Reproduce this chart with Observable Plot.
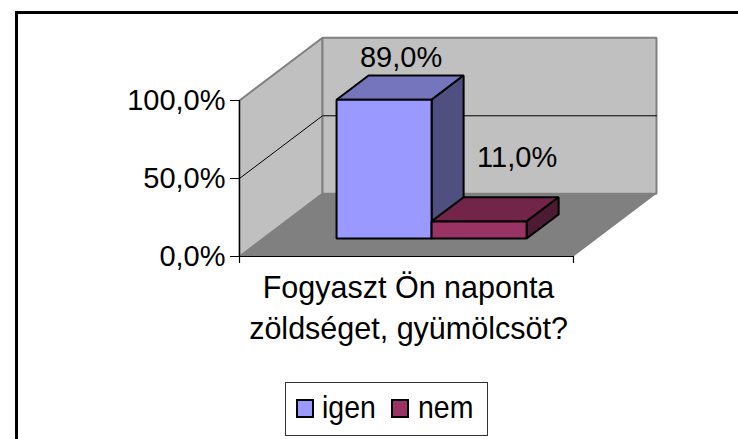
<!DOCTYPE html>
<html><head><meta charset="utf-8">
<script src="https://cdn.jsdelivr.net/npm/d3@7"></script>
<script src="https://cdn.jsdelivr.net/npm/@observablehq/plot@0.6"></script>
<style>
html,body{margin:0;padding:0;background:#fff;width:738px;height:439px;overflow:hidden}
#wrap{position:relative;width:738px;height:439px;overflow:hidden;font-family:"Liberation Sans",Arial,sans-serif;color:#000}
#frame{position:absolute;left:15px;top:11px;width:800px;height:500px;border:3px solid #000;box-sizing:border-box}
#legend{position:absolute;left:285px;top:382px;width:203px;height:54px;box-sizing:border-box;border:1px solid #333;background:#fff;font-size:28.5px;line-height:54px}
#legend i{position:absolute;top:16px;width:18px;height:19px;box-sizing:border-box;border:2.5px solid #000}
#legend span{position:absolute;top:-2px;transform:scaleY(1.1);transform-origin:50% 60%}
svg{position:absolute;left:0;top:0;background:transparent!important}
</style></head><body><div id="wrap"><div id="frame"></div><div id="chart"></div>
<div id="legend"></div></div>
<script>
const seriesNames = ["igen", "nem"];
const seriesValues = [89, 11];
const seriesColors = ["#9999FF", "#993366"];
const topColors = ["#7575BD", "#732449"];
const sideColors = ["#4F4F80", "#4D1A33"];
const yTicks = [0, 50, 100];
const categoryLines = ["Fogyaszt Ön naponta", "zöldséget, gyümölcsöt?"];

const pct = v => v.toFixed(1).replace(".", ",") + "%";
// oblique projection from (category, value, depth) to plot data space
const depthX = 0.2485, depthY = 40.2;
const P = (c, v, d) => ({x: c + d * depthX, y: v + d * depthY});
const poly = (pts, fill, stroke, strokeWidth) =>
  Plot.line(pts, {x: "x", y: "y", fill, stroke, strokeWidth, strokeLinejoin: "miter", curve: "linear-closed"});

const barStart = 0.2195, barWidth = 0.2845, d0 = 0.286, d1 = 0.672;
const fs = 29;
const marks = [
  poly([P(0,0,0),P(0,100,0),P(0,100,1),P(0,0,1)], "#C0C0C0", "#808080", 2),
  poly([P(0,0,1),P(0,100,1),P(1,100,1),P(1,0,1)], "#C0C0C0", "#808080", 2),
  poly([P(0,0,0),P(1,0,0),P(1,0,1),P(0,0,1)], "#808080", "none", 0),
  Plot.line([P(0,50,0),P(0,50,1),P(1,50,1)], {x:"x", y:"y", stroke:"#000", strokeWidth:1}),
  Plot.line([P(0,100,0),P(0,0,0),P(1,0,0)], {x:"x", y:"y", stroke:"#000", strokeWidth:1.2}),
  Plot.ruleX([0,1], {y1: 0, y2: -4.5, stroke:"#000", strokeWidth:1.2, clip:false}),
  Plot.axisY(yTicks, {anchor:"left", x:0, tickSize:9, tickPadding:5, tickFormat:pct, fontSize:fs, label:null})
];
seriesValues.forEach((v, i) => {
  const a = barStart + i * barWidth, b = a + barWidth;
  marks.push(
    poly([P(a,v,d0),P(b,v,d0),P(b,v,d1),P(a,v,d1)], topColors[i], "#000", 2),
    poly([P(b,0,d0),P(b,v,d0),P(b,v,d1),P(b,0,d1)], sideColors[i], "#000", 2),
    poly([P(a,0,d0),P(a,v,d0),P(b,v,d0),P(b,0,d0)], seriesColors[i], "#000", 2)
  );
});
const labelPos = [P(barStart + barWidth * 0.5, seriesValues[0], d1), P(barStart + barWidth * 1.5, seriesValues[1], d1)];
// per-series label offset from the bar's back edge, in px
const labelDx = [-15, 6];
const labelDy = [-18, -39];
seriesValues.forEach((v, i) => marks.push(Plot.text([v], {
  x: () => labelPos[i].x, y: () => labelPos[i].y,
  text: pct, fontSize: fs, fill:"#000", dx: labelDx[i], dy: labelDy[i]
})));
categoryLines.forEach((line, i) => marks.push(Plot.text([line], {
  x: () => 0.5, y: () => 0, text: d => d, fontSize: 30.5, fill:"#000", dx: 2, dy: 32 + i * 41
})));
const chart = Plot.plot({
  width: 738, height: 439,
  marginLeft: 239, marginRight: 165, marginTop: 100, marginBottom: 183,
  x: {type:"linear", domain:[0,1], axis:null},
  y: {type:"linear", domain:[0,100], axis:null},
  style: {fontFamily:'"Liberation Sans",Arial,sans-serif', background:"transparent", overflow:"visible"},
  marks
});
document.getElementById("chart").append(chart);
const lg = document.getElementById("legend");
const swatchLeft = [10, 105], textLeft = [36, 132];
seriesNames.forEach((n,i)=>{
  const k=document.createElement("i"); k.style.background=seriesColors[i]; k.style.left=swatchLeft[i]+"px";
  const s=document.createElement("span"); s.textContent=n; s.style.left=textLeft[i]+"px";
  lg.append(k, s);
});
</script></body></html>
